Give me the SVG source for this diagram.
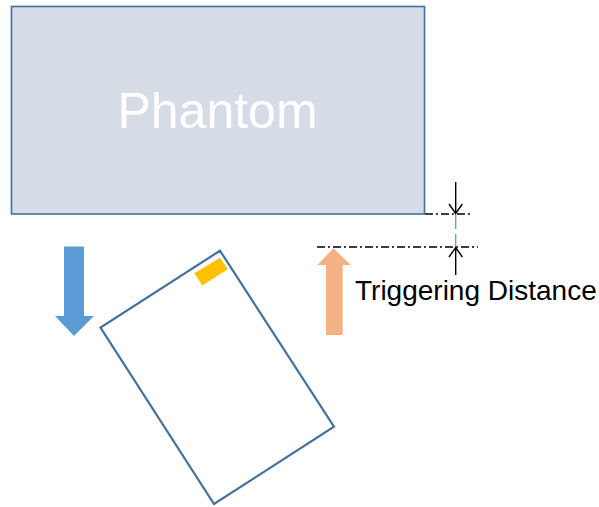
<svg xmlns="http://www.w3.org/2000/svg" width="599" height="507" viewBox="0 0 599 507">
<style>
.lbl{font-family:"Liberation Sans",Arial,sans-serif}
.dd{stroke:#000;stroke-width:1.4;stroke-dasharray:8 3 2 3;fill:none}
.dim{stroke:#000;stroke-width:1.4;fill:none}
</style>
<rect width="599" height="507" fill="#fff"/>
<g id="phantom">
<rect x="11.5" y="6.5" width="413" height="207.5" fill="#D6DCE5" stroke="#41719C" stroke-width="1.6"/>
<text class="lbl" x="217.5" y="128" font-size="50" fill="#fff" text-anchor="middle">Phantom</text>
</g>
<g id="device">
<polygon points="220,250.7 100.5,327.5 214,504 334,426.7" fill="#fff" stroke="#41719C" stroke-width="2.2"/>
<polygon points="194.3,273.3 220,257.7 227.7,269.3 202.3,285.5" fill="#FFC000"/>
</g>
<g id="down-arrow">
<polygon points="64,246.5 84,246.5 84,316 94,316 74,336 55,316 64,316" fill="#5B9BD5"/>
</g>
<g id="up-arrow">
<polygon points="326,335 342.7,335 342.7,265 350.7,265 333.5,248.3 317.3,265 326,265" fill="#F4B183"/>
</g>
<g id="connectors">
<line class="dd" x1="425" y1="214" x2="472" y2="214"/>
<line class="dd" x1="317" y1="247" x2="478" y2="247"/>
<line x1="455.7" y1="214" x2="455.7" y2="229" stroke="#5B9BD5" stroke-width="1.3"/>
<line x1="455.7" y1="234" x2="455.7" y2="247" stroke="#5B9BD5" stroke-width="1.3"/>
<path class="dim" d="M455.7,182 V213.5 M449,204 L455.7,213.5 L462.4,204"/>
<path class="dim" d="M455.7,275 V247.5 M449,257 L455.7,247.5 L462.4,257"/>
</g>
<g id="label">
<text class="lbl" x="355" y="300" font-size="28" fill="#000">Triggering Distance</text>
</g>
</svg>
